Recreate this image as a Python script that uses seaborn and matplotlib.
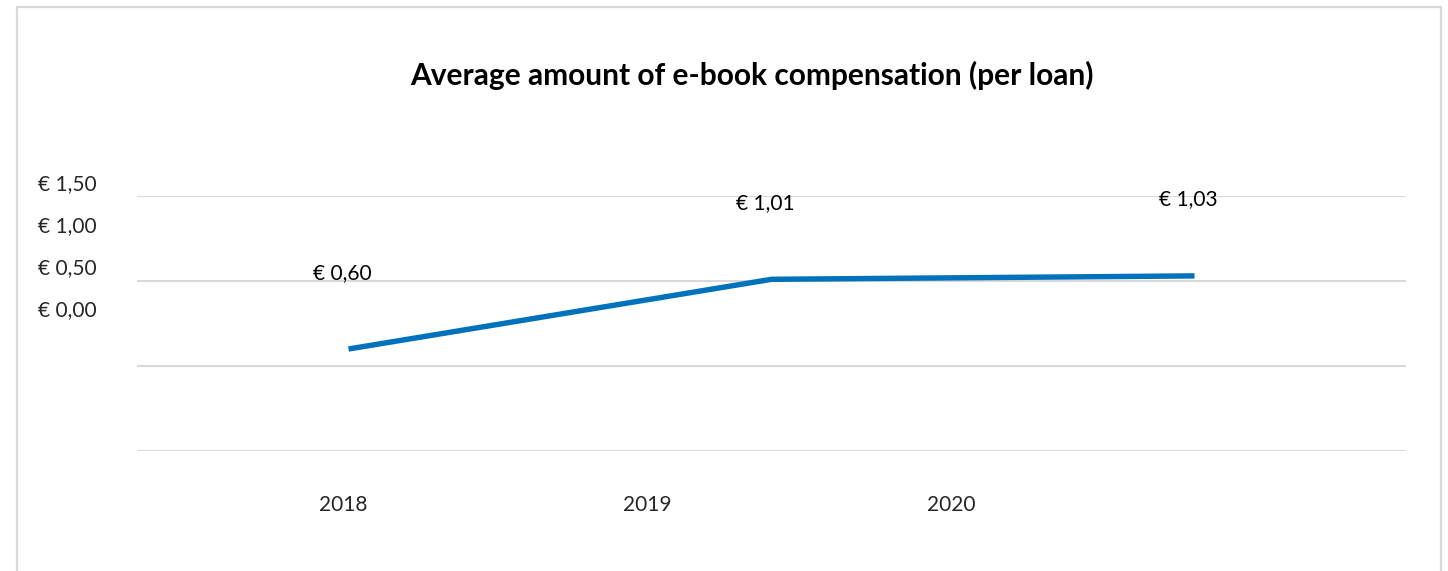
import matplotlib
matplotlib.use("Agg")
import matplotlib.pyplot as plt
import seaborn as sns
import pandas as pd
from matplotlib.patches import Rectangle
from matplotlib.ticker import FuncFormatter

years = ["2018", "2019", "2020"]
compensation = [0.60, 1.01, 1.03]
axisTicks = [0.0, 0.5, 1.0, 1.5]
titleText = "Average amount of e-book compensation (per loan)"

W, H = 1448, 571


def euro(v, pos=None):
    return "€ " + f"{v:.2f}".replace(".", ",")


def box(left, top, right, bottom):
    # pixel box -> figure fraction [l, b, w, h]
    return [left / W, 1 - bottom / H, (right - left) / W, (bottom - top) / H]


sns.set_theme(style="white")
plt.rcParams["font.family"] = ["Lato", "DejaVu Sans"]

fig = plt.figure(figsize=(W / 100, H / 100), dpi=100)

# light frame round the chart area (runs off the bottom)
fig.patches.append(
    Rectangle((17 / W, -0.1), (1441 - 17) / W, 1.1 - 7 / H,
              transform=fig.transFigure, fill=False,
              edgecolor="#d9d9d9", linewidth=1.6)
)

df = pd.DataFrame({"year": years, "value": compensation})

ax = fig.add_axes(box(137, 196, 1406, 451))
sns.lineplot(data=df, x="year", y="value", ax=ax, color="#0072BC",
             linewidth=3.9, solid_capstyle="butt")
ax.set_xlim(-0.5, len(years) - 0.5)
ax.set_ylim(axisTicks[0], axisTicks[-1])
ax.set_yticks(axisTicks)
ax.yaxis.grid(True, color="#d9d9d9", linewidth=1.5)
ax.set_axisbelow(True)
ax.tick_params(left=False, bottom=False, labelleft=False, labelbottom=False)
ax.set_xlabel("")
ax.set_ylabel("")
for s in ax.spines.values():
    s.set_visible(False)

for i, v in enumerate(compensation):
    ax.annotate(euro(v), xy=(i, v), xytext=(-4.5, 55), textcoords="offset points",
                ha="center", va="center", fontsize=15, color="black")

# tick labels as drawn in the original (shifted from the plot itself)
lab = fig.add_axes(box(137, 182, 1406, 480))
lab.patch.set_visible(False)
lab.set_ylim(-172 / 84, axisTicks[-1])
lab.set_yticks(axisTicks)
lab.yaxis.set_major_formatter(FuncFormatter(euro))
lab.set_xlim(-206 / 304, 2 + (1406 - 951) / 304)
lab.set_xticks(range(len(years)))
lab.set_xticklabels(years)
lab.tick_params(axis="y", length=0, pad=29, labelsize=15)
lab.tick_params(axis="x", length=0, pad=11, labelsize=15)
for s in lab.spines.values():
    s.set_visible(False)

fig.text(752 / W, 1 - 84.5 / H, titleText, ha="center", va="baseline",
         fontsize=21.5, fontweight="bold", color="black")

fig.savefig("out.png", dpi=100)
